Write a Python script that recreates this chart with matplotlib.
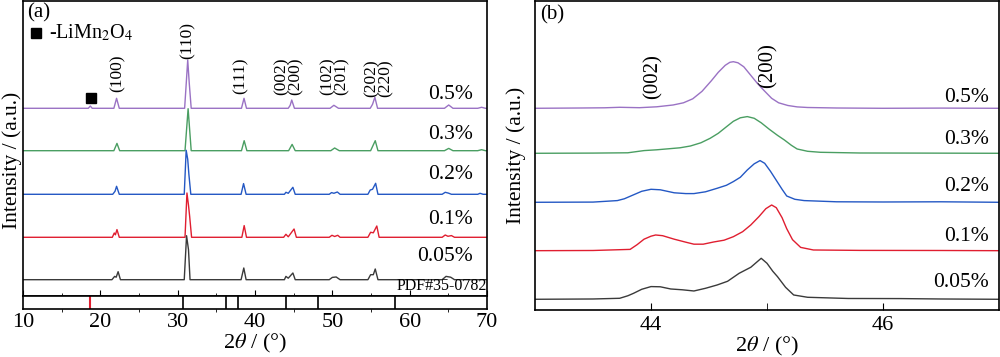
import matplotlib.pyplot as plt

plt.rcParams['font.family'] = ['Liberation Serif', 'DejaVu Serif']
plt.rcParams['mathtext.fontset'] = 'stix'

# Muestras y colores
labels = ["0.5%", "0.3%", "0.2%", "0.1%", "0.05%"]
colors = ["#9a72c4", "#4a9e62", "#2458c4", "#e01e30", "#3a3a3a"]

# (a) patrones completos: puntos (2theta, intensidad relativa)
pts_a_05 = [(10, 0), (18.45, 0), (18.7, 2.3), (18.95, 0), (21.75, 0), (22.1, 10), (22.45, 0),
            (30.9, 0), (31.15, 30), (31.3, 48.3), (31.5, 25), (31.75, 0), (38.25, 0), (38.58, 10),
            (38.9, 0), (44.3, 0), (44.55, 3), (44.75, 8.3), (45.1, 0), (49.7, 0), (50.2, 3),
            (50.8, 0), (54.9, 0), (55.2, 4), (55.5, 11), (55.85, 0), (64.5, 0), (65.05, 3.3),
            (65.6, 0), (68.8, 0), (69.3, 1), (69.8, 0), (70, 0)]
pts_a_03 = [(10, 0), (21.75, 0), (22.15, 7.3), (22.5, 0), (30.95, 0), (31.35, 42), (31.75, 0),
            (38.25, 0), (38.6, 10), (38.95, 0), (44.35, 0), (44.8, 6.3), (45.2, 0), (49.8, 0),
            (50.3, 2.7), (50.9, 0), (54.95, 0), (55.55, 10), (55.9, 0), (64.5, 0), (65.05, 2.3),
            (65.6, 0), (68.8, 0), (69.3, 1), (69.8, 0), (70, 0)]
pts_a_02 = [(10, 0), (21.6, 0), (21.9, 3), (22.1, 8), (22.45, 0), (30.85, 0), (31.1, 44),
            (31.3, 35), (31.45, 20), (31.7, 0), (38.2, 0), (38.52, 10.7), (38.85, 0), (43.8, 0),
            (44.0, 2), (44.3, 1), (44.9, 7), (45.2, 0), (49.6, 0), (49.9, 1.7), (50.2, 1),
            (50.65, 2.3), (51.0, 0), (54.6, 0), (54.9, 4.3), (55.2, 5), (55.6, 11), (55.9, 0),
            (64.2, 0), (64.6, 2), (65.0, 1.2), (65.4, 0), (68.8, 0), (69.1, 1), (69.5, 0), (70, 0)]
pts_a_01 = [(10, 0), (21.55, 0), (21.8, 4.3), (21.95, 2.5), (22.15, 7.7), (22.45, 0), (30.95, 0),
            (31.2, 44.3), (31.4, 32), (31.55, 21), (31.8, 0), (38.3, 0), (38.6, 11.7), (38.9, 0),
            (43.7, 0), (44.0, 3), (44.3, 0.5), (45.05, 8.3), (45.35, 0), (49.6, 0), (49.95, 2),
            (50.3, 0.8), (50.7, 2), (51.0, 0), (54.6, 0), (54.95, 5), (55.3, 4.5), (55.75, 11.3),
            (56.05, 0), (64.2, 0), (64.6, 2.3), (64.95, 1), (65.4, 1.7), (65.8, 0), (70, 0)]
pts_a_005 = [(10, 0), (21.5, 0), (21.85, 3.3), (22.05, 2.5), (22.3, 8), (22.6, 0), (30.85, 0),
             (31.15, 44), (31.4, 30), (31.6, 0), (38.2, 0), (38.55, 11.7), (38.85, 0), (43.8, 0),
             (44.0, 3.3), (44.3, 1.5), (44.9, 6.7), (45.2, 0), (49.6, 0), (50.0, 2.3), (50.5, 2.7),
             (51.0, 0), (54.6, 0), (54.95, 5), (55.3, 5), (55.55, 10.7), (55.9, 0), (64.2, 0),
             (64.7, 3.3), (65.3, 2.5), (65.8, 0), (70, 0)]
offsets_a = [187.7, 145.3, 101.7, 58.7, 16.3]
label_y_a = [201, 161, 121, 76, 39]

# Reflexiones (hkl) en (a)
hkl_text = ["(100)", "(110)", "(111)", "(002)\n(200)", "(102)\n(201)", "(202)\n(220)"]
hkl_x = [22.3, 31.3, 38.15, 44.4, 50.35, 55.95]
hkl_y = [204, 237, 202, 201, 201, 199]

# Tarjeta PDF#35-0782
pdf_black = [30.7, 36.2, 37.75, 43.97, 48.1, 58.1]
pdf_red = [18.6]

# (b) zona ampliada 43-47
xb_05 = [43.0, 43.4, 43.6, 43.73, 43.9, 44.05, 44.19, 44.28, 44.36, 44.44, 44.52, 44.58, 44.64,
         44.68, 44.71, 44.75, 44.8, 44.86, 44.92, 44.97, 45.04, 45.1, 45.18, 45.26, 45.35, 45.6,
         46.0, 46.5, 47.0]
yb_05 = [0, 0.3, 0.5, 1.0, 0.6, 1.5, 3.3, 5.5, 9.5, 17, 27.5, 36, 43, 46, 46.6, 45.5, 41.5, 33,
         24.5, 18.3, 10, 5.5, 2.8, 1.4, 0.8, 0.3, 0, 0.2, 0]
xb_03 = [43.0, 43.5, 43.8, 43.94, 44.05, 44.15, 44.25, 44.34, 44.43, 44.51, 44.58, 44.65, 44.71,
         44.77, 44.83, 44.89, 44.95, 45.02, 45.09, 45.15, 45.21, 45.26, 45.35, 45.46, 45.8, 46.3,
         47.0]
yb_03 = [0, 0.2, 0.5, 2.7, 3.5, 4.5, 5.5, 7.3, 10.5, 15, 20, 26.5, 32, 35.5, 36.7, 35, 30.5, 24,
         18, 13.3, 8, 4.3, 2, 1, 0.3, 0.2, 0]
xb_02 = [43.0, 43.5, 43.71, 43.77, 43.84, 43.92, 44.0, 44.08, 44.2, 44.3, 44.37, 44.47, 44.57,
         44.65, 44.71, 44.77, 44.83, 44.89, 44.94, 44.98, 45.03, 45.08, 45.13, 45.17, 45.24,
         45.32, 45.6, 46.0, 46.5, 47.0]
yb_02 = [0, 0.2, 1.7, 3.5, 7, 11, 13, 12.5, 9.5, 8.7, 8.7, 10.5, 14, 17, 20.7, 25, 32.3, 38.5,
         41.7, 39, 31, 22, 13, 6.3, 3, 1.7, 0.5, 0.3, 0.5, 0]
xb_01 = [43.0, 43.5, 43.82, 43.88, 43.94, 44.0, 44.04, 44.1, 44.2, 44.3, 44.37, 44.45, 44.54,
         44.63, 44.71, 44.79, 44.86, 44.93, 44.99, 45.04, 45.08, 45.13, 45.17, 45.22, 45.29,
         45.4, 45.8, 46.5, 47.0]
yb_01 = [0, 0.2, 1.3, 6, 11.5, 14.5, 15.7, 15, 11.5, 8.5, 6.5, 6.5, 8.7, 10.5, 14, 19, 25.7, 34,
         42, 45.7, 43, 33, 22, 11, 3.3, 0.7, 0.3, 0.2, 0]
xb_005 = [43.0, 43.5, 43.73, 43.8, 43.85, 43.92, 44.0, 44.08, 44.17, 44.27, 44.37, 44.47, 44.57,
          44.66, 44.76, 44.86, 44.95, 45.0, 45.05, 45.09, 45.16, 45.23, 45.35, 45.7, 46.15, 46.5,
          47.0]
yb_005 = [0, 0.3, 1, 3.5, 6, 10, 12.7, 12.5, 10.3, 9.5, 8.3, 11, 14.3, 18, 26, 32, 41, 36, 28,
          22.7, 12, 4.3, 2, 0.8, 0.7, 0.3, 0]
offsets_b = [201.7, 156.7, 107.7, 59.3, 10.7]
label_y_b = [212, 170, 123, 73, 27]

fs = 16

fig = plt.figure(figsize=(10, 3.57), dpi=100)
ax_a = fig.add_axes([0.023, 0.1709, 0.464, 0.8263])
ax_pdf = fig.add_axes([0.023, 0.1345, 0.464, 0.0364], sharex=ax_a)
ax_b = fig.add_axes([0.535, 0.1317, 0.464, 0.8655])

# ---- Panel (a) ----
series_a = [pts_a_05, pts_a_03, pts_a_02, pts_a_01, pts_a_005]
for pts, off, c, lab, ly in zip(series_a, offsets_a, colors, labels, label_y_a):
    xs = [p[0] for p in pts]
    ys = [p[1] + off for p in pts]
    ax_a.plot(xs, ys, color=c, linewidth=1.0)
    ax_a.text(68.2, ly, lab, ha='right', va='center', fontsize=15.5)

for t, x, y in zip(hkl_text, hkl_x, hkl_y):
    ax_a.text(x, y, t, rotation=90, ha='center', va='bottom', fontsize=12.5, linespacing=0.85)

ax_a.plot([18.75], [198.3], marker='s', color='black', markersize=7, linestyle='none')
ax_a.plot([11.7], [263.3], marker='s', color='black', markersize=7, linestyle='none')
ax_a.text(13.4, 263.3, "-LiMn$_2$O$_4$", ha='left', va='center', fontsize=14.5)
ax_a.text(10.5, 283, "(a)", ha='left', va='center', fontsize=15)
ax_a.text(70, 10, "PDF#35-0782", ha='right', va='center', fontsize=11.5)

ax_a.set_xlim(10, 70)
ax_a.set_ylim(0, 295)
ax_a.set_yticks([])
ax_a.set_xticks([10, 20, 30, 40, 50, 60, 70])
ax_a.set_xticks([15, 25, 35, 45, 55, 65], minor=True)
ax_a.tick_params(axis='x', which='both', direction='in', labelbottom=False)
ax_a.tick_params(axis='x', which='major', length=4)
ax_a.tick_params(axis='x', which='minor', length=2.5)
ax_a.set_ylabel("Intensity / (a.u.)", fontsize=15.5)
ax_a.yaxis.set_label_coords(-0.002, 0.46)

# Barras de referencia
for x in pdf_black:
    ax_pdf.axvline(x, color='black', linewidth=1.2)
for x in pdf_red:
    ax_pdf.axvline(x, color='#e01e30', linewidth=1.5)
ax_pdf.set_yticks([])
ax_pdf.tick_params(axis='x', length=0, labelsize=fs, pad=3)
ax_pdf.set_xlabel(r"2$\theta$ / (°)", fontsize=fs, labelpad=0)

# ---- Panel (b) ----
series_b = [(xb_05, yb_05), (xb_03, yb_03), (xb_02, yb_02), (xb_01, yb_01), (xb_005, yb_005)]
for (xs, ys), off, c, lab, ly in zip(series_b, offsets_b, colors, labels, label_y_b):
    ax_b.plot(xs, [y + off for y in ys], color=c, linewidth=1.0)
    ax_b.text(46.91, ly, lab, ha='right', va='center', fontsize=15.5)

ax_b.text(44.02, 233, "(002)", rotation=90, ha='center', va='center', fontsize=15)
ax_b.text(45.01, 244, "(200)", rotation=90, ha='center', va='center', fontsize=15)
ax_b.text(43.04, 295, "(b)", ha='left', va='center', fontsize=15)

ax_b.set_xlim(43, 47)
ax_b.set_ylim(0, 309)
ax_b.set_yticks([])
ax_b.set_xticks([44, 46])
ax_b.set_xticks([45], minor=True)
ax_b.tick_params(axis='x', which='both', direction='in', length=5, labelsize=fs, pad=4)
ax_b.set_xlabel(r"2$\theta$ / (°)", fontsize=fs, labelpad=0)
ax_b.set_ylabel("Intensity / (a.u.)", fontsize=15.5)
ax_b.yaxis.set_label_coords(-0.019, 0.5)

for ax in [ax_a, ax_pdf, ax_b]:
    for s in ax.spines.values():
        s.set_linewidth(1.2)

plt.savefig("out.png", dpi=100)
